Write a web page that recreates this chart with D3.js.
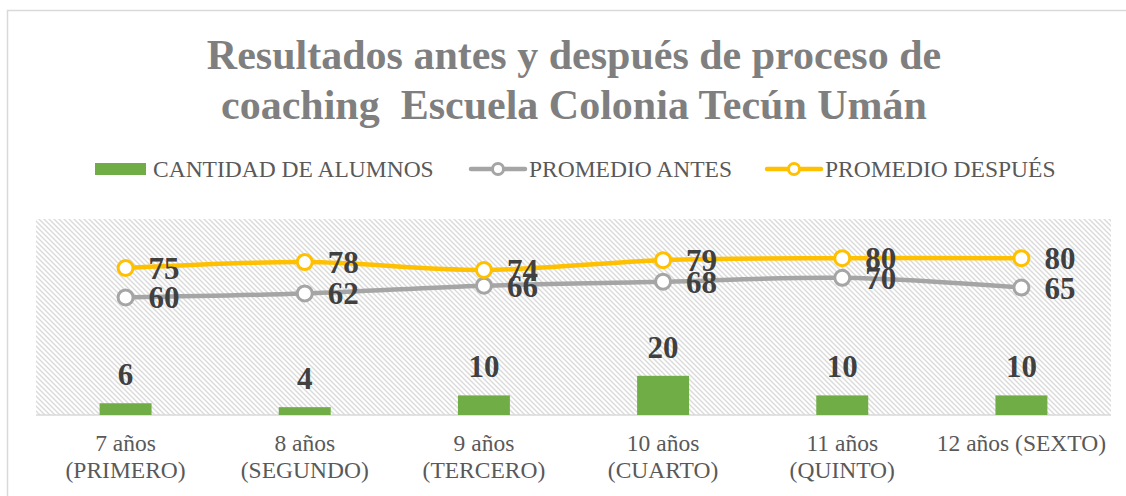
<!DOCTYPE html>
<html>
<head>
<meta charset="utf-8">
<script src="https://cdn.jsdelivr.net/npm/d3@7"></script>
<style>
  body { margin: 0; background: #fff; }
  text { font-family: "Liberation Serif", "Times New Roman", serif; }
</style>
</head>
<body>
<script>
// data
const categories = ["7 años\n(PRIMERO)", "8 años\n(SEGUNDO)", "9 años\n(TERCERO)", "10 años\n(CUARTO)", "11 años\n(QUINTO)", "12 años (SEXTO)"];
const alumnos = [6, 4, 10, 20, 10, 10];
const promedioAntes = [60, 62, 66, 68, 70, 65];
const promedioDespues = [75, 78, 74, 79, 80, 80];
const titleLines = ["Resultados antes y después de proceso de", "coaching  Escuela Colonia Tecún Umán"];
const legendNames = ["CANTIDAD DE ALUMNOS", "PROMEDIO ANTES", "PROMEDIO DESPUÉS"];

let width = 1126;
let height = 496;
let plot = {left: 36, right: 1111, top: 219, bottom: 415};

let svg = d3.select("body").append("svg")
  .attr("width", width)
  .attr("height", height);

/* hatch */
let pat = svg.append("defs").append("pattern")
  .attr("id", "hatch")
  .attr("patternUnits", "userSpaceOnUse")
  .attr("width", 5).attr("height", 5);
pat.append("path")
  .attr("d", "M0,0L5,5M-1,4L1,6M4,-1L6,1")
  .attr("stroke", "#dadada").attr("stroke-width", 1.4);

// chart border
svg.append("rect")
  .attr("x", 7.5).attr("y", 10.5)
  .attr("width", 1300).attr("height", 700)
  .attr("fill", "none").attr("stroke", "#d9d9d9").attr("stroke-width", 1.5);

svg.append("rect")
  .attr("x", plot.left).attr("y", plot.top)
  .attr("width", plot.right - plot.left).attr("height", plot.bottom - plot.top)
  .attr("fill", "url(#hatch)");

/* scales */
let x = d3.scaleBand()
  .domain(categories)
  .range([plot.left, plot.right])
  .paddingInner(0.71)
  .paddingOuter(0.355);
let y = d3.scaleLinear()
  .domain([0, 100])
  .range([plot.bottom, plot.top]);
let cx = d => x(d) + x.bandwidth() / 2;

// baseline
svg.append("line")
  .attr("x1", plot.left).attr("x2", plot.right)
  .attr("y1", plot.bottom).attr("y2", plot.bottom)
  .attr("stroke", "#d9d9d9").attr("stroke-width", 1.5);

/* bars */
svg.selectAll(".bar").data(alumnos).enter().append("rect")
  .attr("x", (d, i) => x(categories[i]))
  .attr("y", d => y(d))
  .attr("width", x.bandwidth())
  .attr("height", d => y(0) - y(d))
  .attr("fill", "#70ad47");

svg.selectAll(".barlab").data(alumnos).enter().append("text")
  .attr("x", (d, i) => cx(categories[i]))
  .attr("y", d => y(d) - 18)
  .attr("text-anchor", "middle")
  .attr("font-size", 31).attr("font-weight", "bold")
  .attr("fill", "#404040")
  .text(d => d);

/* lines */
let line = d3.line()
  .x((d, i) => cx(categories[i]))
  .y(d => y(d))
  .curve(d3.curveCardinal);

function drawSeries(values, color) {
  svg.append("path")
    .attr("d", line(values))
    .attr("fill", "none")
    .attr("stroke", color)
    .attr("stroke-width", 4.5)
    .attr("stroke-linecap", "round");
  svg.selectAll(null).data(values).enter().append("circle")
    .attr("cx", (d, i) => cx(categories[i]))
    .attr("cy", d => y(d))
    .attr("r", 7.5)
    .attr("fill", "#fff")
    .attr("stroke", color)
    .attr("stroke-width", 3);
}
drawSeries(promedioAntes, "#a5a5a5");
drawSeries(promedioDespues, "#ffc000");

function drawLabels(values) {
  svg.selectAll(null).data(values).enter().append("text")
    .attr("x", (d, i) => cx(categories[i]) + 23)
    .attr("y", d => y(d) + 11)
    .attr("font-size", 31).attr("font-weight", "bold")
    .attr("fill", "#404040")
    .text(d => d);
}
drawLabels(promedioAntes);
drawLabels(promedioDespues);

/* x axis */
let axis = svg.append("g")
  .attr("transform", "translate(0," + plot.bottom + ")")
  .call(d3.axisBottom(x).tickSize(0).tickFormat(""));
axis.select(".domain").remove();
axis.selectAll(".tick").each(function(d) {
  let t = d3.select(this).append("text")
    .attr("text-anchor", "middle")
    .attr("font-size", 23.5)
    .attr("fill", "#595959");
  d.split("\n").forEach((s, i) => {
    t.append("tspan").attr("x", 0).attr("y", 36 + i * 27).text(s);
  });
});

/* title */
svg.selectAll(".title").data(titleLines).enter().append("text")
  .attr("x", 574)
  .attr("y", (d, i) => 69 + i * 50)
  .attr("text-anchor", "middle")
  .attr("font-size", 42).attr("font-weight", "bold")
  .attr("fill", "#7f7f7f")
  .style("white-space", "pre")
  .text(d => d);

/* legend */
let ly = 169;
let lg = svg.append("g");
lg.append("rect").attr("x", 95).attr("y", ly - 6).attr("width", 51).attr("height", 12).attr("fill", "#70ad47");
lg.append("text").attr("x", 153).attr("y", ly + 8).attr("font-size", 23.5).attr("fill", "#595959").text(legendNames[0]);

[[471, "#a5a5a5", legendNames[1]], [767, "#ffc000", legendNames[2]]].forEach(([lx, c, name]) => {
  lg.append("line").attr("x1", lx).attr("x2", lx + 54).attr("y1", ly).attr("y2", ly)
    .attr("stroke", c).attr("stroke-width", 4.5).attr("stroke-linecap", "round");
  lg.append("circle").attr("cx", lx + 27).attr("cy", ly).attr("r", 5.5)
    .attr("fill", "#fff").attr("stroke", c).attr("stroke-width", 3);
  lg.append("text").attr("x", lx + 58).attr("y", ly + 8).attr("font-size", 23.5).attr("fill", "#595959").text(name);
});
</script>
</body>
</html>
